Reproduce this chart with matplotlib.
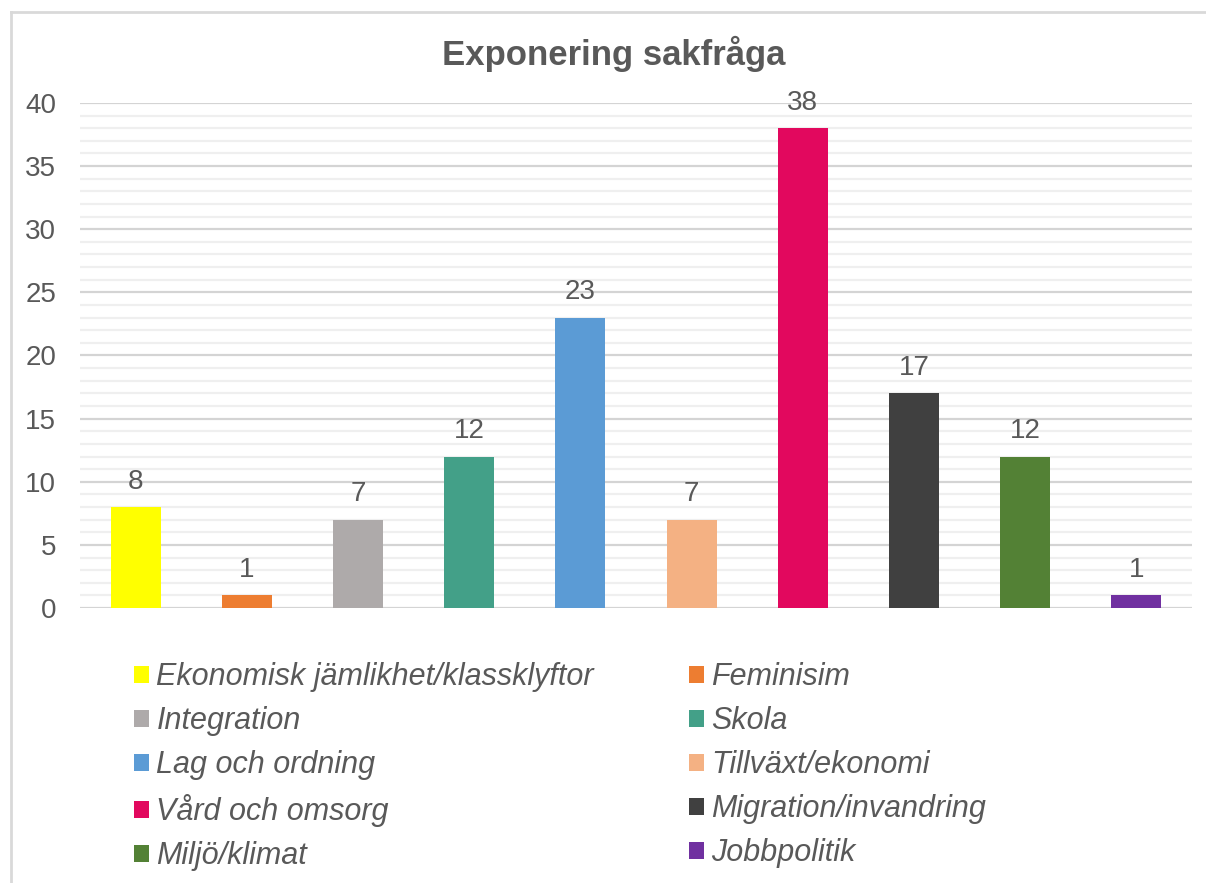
import matplotlib
matplotlib.use('Agg')
from matplotlib import pyplot as plt
from matplotlib.patches import Patch
from matplotlib.lines import Line2D
from matplotlib.ticker import MultipleLocator

categories = ['Ekonomisk jämlikhet/klassklyftor', 'Feminisim', 'Integration', 'Skola',
              'Lag och ordning', 'Tillväxt/ekonomi', 'Vård och omsorg',
              'Migration/invandring', 'Miljö/klimat', 'Jobbpolitik']
values = [8, 1, 7, 12, 23, 7, 38, 17, 12, 1]
colors = ['#FFFF00', '#ED7D31', '#AEAAAA', '#43A088', '#5B9BD5',
          '#F4B183', '#E2085E', '#404040', '#538135', '#7030A0']
title = 'Exponering sakfråga'

text_color = '#595959'
plt.rcParams['font.family'] = ['Liberation Sans', 'DejaVu Sans']

fig = plt.figure(figsize=(12.06, 8.83), dpi=100)
ax = fig.add_axes([0.0663, 0.3114, 0.9221, 0.572])

x = list(range(len(values)))
bars = ax.bar(x, values, width=0.45, color=colors, zorder=3)
ax.bar_label(bars, labels=[str(v) for v in values], padding=9,
             fontsize=20, color=text_color)

ax.set_xlim(-0.5, len(values) - 0.5)
ax.set_ylim(0, 40)
ax.yaxis.set_major_locator(MultipleLocator(5))
ax.yaxis.set_minor_locator(MultipleLocator(1))
ax.grid(which='minor', axis='y', color='#efefef', linewidth=1.6, zorder=0)
ax.grid(which='major', axis='y', color='#d4d4d4', linewidth=1.6, zorder=1)
ax.set_xticks([])
ax.tick_params(axis='y', which='both', length=0, pad=17, labelsize=20,
               labelcolor=text_color)
for s in ax.spines.values():
    s.set_visible(False)

fig.text(0.509, 0.939, title, ha='center', va='center', fontsize=25,
         fontweight='bold', color=text_color)

# legend laid out row-wise in two columns
order = [i for i in range(0, len(values), 2)] + [i for i in range(1, len(values), 2)]
handles = [Patch(facecolor=colors[i], edgecolor='none') for i in order]
labels = [categories[i] for i in order]
fig.legend(handles, labels, ncol=2, loc='upper left', bbox_to_anchor=(0.111, 0.250),
           frameon=False, labelcolor=text_color,
           prop={'style': 'italic', 'size': 22}, handlelength=0.49,
           handleheight=0.49, handletextpad=0.25, labelspacing=0.46,
           columnspacing=3.1, borderaxespad=0, borderpad=0)

# outer frame lines (top and left)
fig.add_artist(Line2D([0.0095, 1.0], [0.986, 0.986], color='#d9d9d9', linewidth=2,
                      transform=fig.transFigure))
fig.add_artist(Line2D([0.0095, 0.0095], [0.0, 0.986], color='#d9d9d9', linewidth=2,
                      transform=fig.transFigure))

fig.savefig('out.png', dpi=100)
